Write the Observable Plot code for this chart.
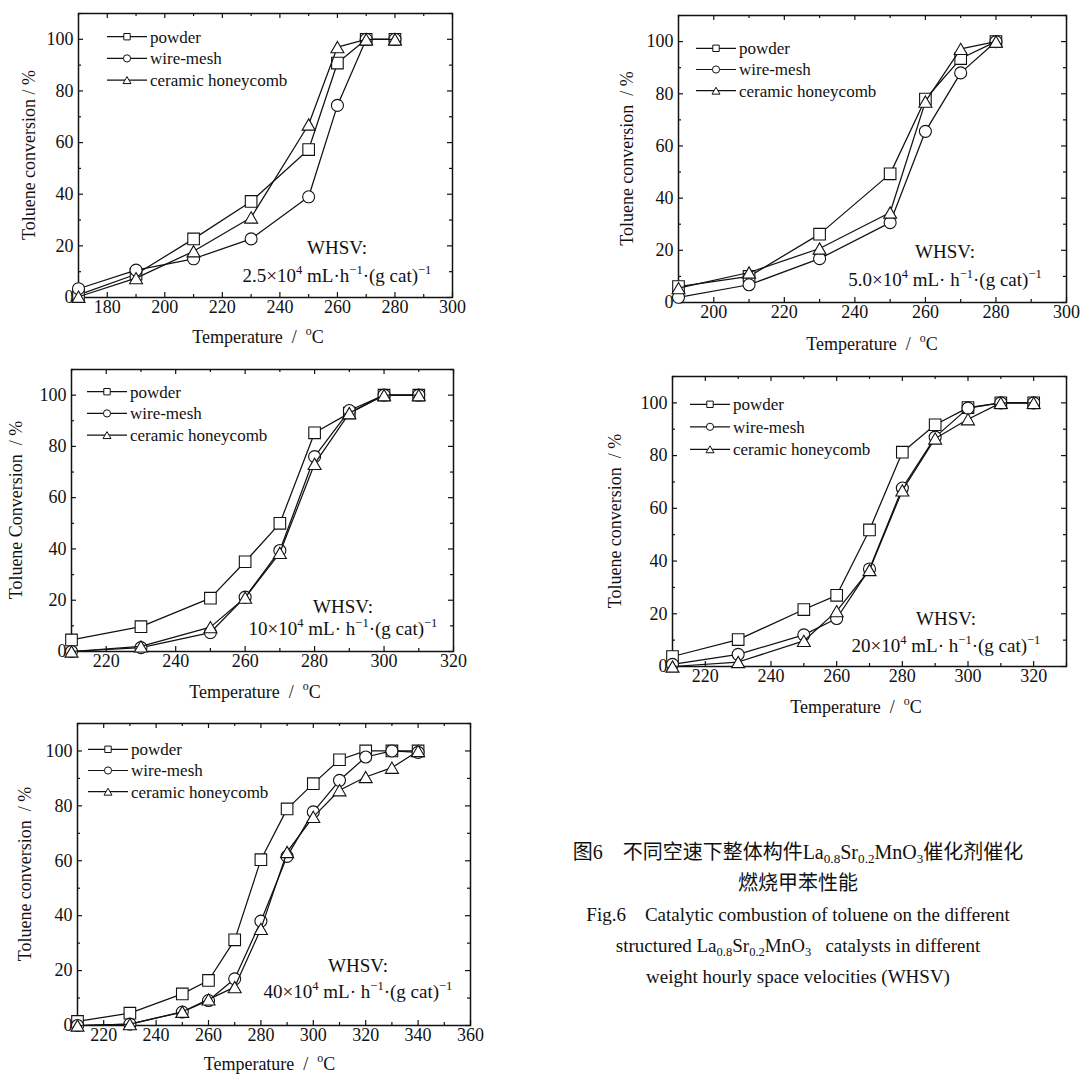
<!DOCTYPE html>
<html><head><meta charset="utf-8">
<script src="https://cdn.jsdelivr.net/npm/d3@7"></script>
<script src="https://cdn.jsdelivr.net/npm/@observablehq/plot@0.6"></script>
<style>
body{margin:0;background:#fff;}
#page{position:relative;width:1080px;height:1077px;overflow:hidden;background:#fff;font-family:"Liberation Serif","Times New Roman",serif;color:#111;}
.panel{position:absolute;}
.panel svg{max-width:none;display:block;}
#caption{position:absolute;left:548px;width:500px;top:837px;text-align:center;line-height:31px;color:#111;white-space:nowrap;}
.cn{font-size:20px;font-family:"Liberation Serif","Noto Sans CJK SC",serif;}
.en{font-size:19px;}
sub{font-size:0.66em;vertical-align:-0.28em;line-height:0;}
</style></head>
<body><div id="page"></div>
<script>
// ---------- data ----------
const seriesNames = ["powder", "wire-mesh", "ceramic honeycomb"];
const yTicks = [0, 20, 40, 60, 80, 100];

// Panel 1: WHSV 2.5x10^4
const temps1   = [170, 190, 210, 230, 250, 260, 270, 280];
const powder1  = [1, 9, 22.7, 37.2, 57.3, 90.8, 100, 100];
const wire1    = [3.4, 10.6, 15, 22.7, 39, 74.4, 100, 100];
const ceramic1 = [0.3, 7.5, 17.9, 31, 67, 97, 100, 100];
const xTicks1  = [180, 200, 220, 240, 260, 280, 300];

// Panel 2: WHSV 5.0x10^4
const temps2   = [190, 210, 230, 250, 260, 270, 280];
const powder2  = [6.1, 10, 26.2, 49.3, 78, 93.5, 100];
const wire2    = [2, 6.8, 16.8, 30.6, 65.6, 88, 100];
const ceramic2 = [5.5, 11.5, 20.7, 34.5, 77, 97.2, 100];
const xTicks2  = [200, 220, 240, 260, 280, 300];

// Panel 3: WHSV 10x10^4
const temps3   = [210, 230, 250, 260, 270, 280, 290, 300, 310];
const powder3  = [4.5, 9.7, 20.8, 35, 50, 85.3, 93, 100, 100];
const wire3    = [0, 1.5, 7.4, 21.2, 39.4, 76, 94, 100, 100];
const ceramic3 = [0, 2, 9.5, 21, 38.5, 73.2, 93, 100, 100];
const xTicks3  = [220, 240, 260, 280, 300, 320];

// Panel 4: WHSV 20x10^4
const temps4   = [210, 230, 250, 260, 270, 280, 290, 300, 310, 320];
const powder4  = [3.8, 10.2, 21.6, 27, 51.8, 81.3, 91.7, 98.2, 100, 100];
const wire4    = [0.8, 4.6, 12, 18.2, 37, 67.7, 87, 98, 100, 100];
const ceramic4 = [0, 1.7, 9.7, 21, 36.6, 66.8, 86.5, 93.8, 100, 100];
const xTicks4  = [220, 240, 260, 280, 300, 320];

// Panel 5: WHSV 40x10^4
const temps5   = [210, 230, 250, 260, 270, 280, 290, 300, 310, 320, 330, 340];
const powder5  = [1.5, 4.5, 11.5, 16.4, 31.2, 60.4, 78.9, 88.1, 96.8, 100, 100, 100];
const wire5    = [0, 0.5, 4.9, 9.1, 17, 38, 61.6, 77.8, 89.3, 97.8, 100, 99.5];
const ceramic5 = [0, 0.5, 5, 9.5, 14, 35.2, 63.2, 76, 85.7, 90.5, 93.9, 100];
const xTicks5  = [220, 240, 260, 280, 300, 320, 340, 360];

const yLabels = ["Toluene conversion / %", "Toluene conversion  / %", "Toluene Conversion  / %", "Toluene conversion  / %", "Toluene conversion  / %"];
const whsvValues = ["2.5", "5.0", "10", "20", "40"];
const whsvSpaced = [false, true, true, true, true];

// ---------- layout (page pixels) ----------
const panels = [
  {temps: temps1, series: [powder1, wire1, ceramic1], xDomain: [170, 300], xTicks: xTicks1,
   left: 0, top: 0, width: 470, height: 350, frame: [78, 452, 13, 297],
   legend: [107, 36.7, 21.7], ann: [337, 254, 282], xLab: [-7, 46], yLabDx: -49},
  {temps: temps2, series: [powder2, wire2, ceramic2], xDomain: [190, 300], xTicks: xTicks2,
   left: 600, top: 0, width: 480, height: 360, frame: [678, 1066, 15, 302],
   legend: [696, 48.3, 21.2], ann: [945, 258, 286], xLab: [0, 48], yLabDx: -51},
  {temps: temps3, series: [powder3, wire3, ceramic3], xDomain: [210, 320], xTicks: xTicks3,
   left: 0, top: 358, width: 470, height: 352, frame: [71, 453, 369, 651],
   legend: [87, 391.7, 21.7], ann: [343, 613, 635], xLab: [-7, 47], yLabDx: -55},
  {temps: temps4, series: [powder4, wire4, ceramic4], xDomain: [210, 330], xTicks: xTicks4,
   left: 600, top: 368, width: 480, height: 352, frame: [672, 1066, 376, 666],
   legend: [690, 404.3, 22.5], ann: [946, 625, 651.5], xLab: [-13, 47], yLabDx: -57},
  {temps: temps5, series: [powder5, wire5, ceramic5], xDomain: [210, 360], xTicks: xTicks5,
   left: 0, top: 705, width: 480, height: 372, frame: [77, 470, 723, 1025],
   legend: [88, 749.3, 21.2], ann: [358, 971.7, 998.3], xLab: [-4, 45], yLabDx: -52}
];

// ---------- symbols ----------
function sq(h) { return {draw(c) { c.moveTo(-h, -h); c.lineTo(h, -h); c.lineTo(h, h); c.lineTo(-h, h); c.closePath(); }}; }
function ci(r) { return {draw(c) { c.moveTo(r, 0); c.arc(0, 0, r, 0, 2 * Math.PI); }}; }
function tr(s) { return {draw(c) { const h = s * Math.sqrt(3) / 2; c.moveTo(0, -h / 2); c.lineTo(s / 2, h / 2); c.lineTo(-s / 2, h / 2); c.closePath(); }}; }
const dataSymbols = [sq(5.8), ci(6), tr(13)];
const legendSymbols = [sq(3.2), ci(3.6), tr(8)];

const INK = "#111";
const page = document.getElementById("page");

function addText(g, x, y, pieces, size, opts = {}) {
  const t = g.append("text").attr("x", x).attr("y", y)
    .attr("text-anchor", opts.anchor || "middle")
    .attr("font-size", size).attr("fill", INK)
    .style("white-space", "pre");
  if (opts.rotate) t.attr("transform", `rotate(${opts.rotate},${x},${y})`);
  if (opts.dy) t.attr("dy", opts.dy);
  const shift = size * 0.42;
  let raised = false;
  pieces.forEach(p => {
    const [str, sup] = Array.isArray(p) ? p : [p, false];
    const ts = t.append("tspan").text(str);
    if (sup && !raised) { ts.attr("dy", -shift); raised = true; }
    else if (!sup && raised) { ts.attr("dy", shift); raised = false; }
    if (sup) ts.attr("font-size", size * 0.66);
  });
  return t;
}

panels.forEach((p, pi) => {
  const mL = p.frame[0] - p.left, mR = p.left + p.width - p.frame[1];
  const mT = p.frame[2] - p.top, mB = p.top + p.height - p.frame[3];
  const fw = p.frame[1] - p.frame[0], fh = p.frame[3] - p.frame[2];
  const [x0, x1] = p.xDomain;
  const xMajor = d3.range(Math.ceil(x0 / 20) * 20, x1 + 0.1, 20);
  const xMinor = d3.range(Math.ceil(x0 / 10) * 10, x1 + 0.1, 10).filter(v => v % 20 !== 0);
  const yMajor = d3.range(0, 110.1, 20);
  const yMinor = d3.range(10, 110.1, 20);
  const TM = 5, Tm = 3;
  const tk = {stroke: INK, strokeWidth: 1.2};
  const marks = [
    Plot.frame({stroke: INK, strokeWidth: 1.5}),
    Plot.tickX(xMajor, {x: d => d, insetTop: fh - TM, ...tk}),
    Plot.tickX(xMajor, {x: d => d, insetBottom: fh - TM, ...tk}),
    Plot.tickX(xMinor, {x: d => d, insetTop: fh - Tm, ...tk}),
    Plot.tickX(xMinor, {x: d => d, insetBottom: fh - Tm, ...tk}),
    Plot.tickY(yMajor, {y: d => d, insetRight: fw - TM, ...tk}),
    Plot.tickY(yMajor, {y: d => d, insetLeft: fw - TM, ...tk}),
    Plot.tickY(yMinor, {y: d => d, insetRight: fw - Tm, ...tk}),
    Plot.tickY(yMinor, {y: d => d, insetLeft: fw - Tm, ...tk})
  ];
  p.series.forEach((vals, si) => {
    const data = p.temps.map((t, i) => ({t, v: vals[i], s: seriesNames[si]}));
    marks.push(Plot.line(data, {x: "t", y: "v", stroke: INK, strokeWidth: 1.25}));
    marks.push(Plot.dot(data, {x: "t", y: "v", symbol: dataSymbols[si], fill: "white", stroke: INK, strokeWidth: 1.1}));
  });
  const svg = Plot.plot({
    width: p.width, height: p.height,
    marginLeft: mL, marginRight: mR, marginTop: mT, marginBottom: mB,
    style: {fontFamily: "'Liberation Serif', 'Times New Roman', serif", fontSize: "18px", color: INK, background: "none", overflow: "visible"},
    x: {domain: p.xDomain, ticks: p.xTicks, tickSize: 0, tickPadding: 3, label: null},
    y: {domain: [0, 110], ticks: yTicks, tickSize: 0, tickPadding: 5, label: null},
    marks
  });
  const g = d3.select(svg).append("g").attr("class", "overlay");
  const fl = mL, fr = mL + fw, ft = mT, fb = mT + fh;
  // axis labels
  addText(g, (fl + fr) / 2 + p.xLab[0], fb + p.xLab[1], ["Temperature  /  ", ["o", true], "C"], 18);
  addText(g, fl + p.yLabDx, (ft + fb) / 2, [yLabels[pi]], 18, {rotate: -90, dy: "0.35em"});
  // legend
  const [lx, ly, lsp] = p.legend;
  seriesNames.forEach((name, si) => {
    const x = lx - p.left, y = ly - p.top + si * lsp;
    g.append("line").attr("x1", x).attr("x2", x + 40).attr("y1", y).attr("y2", y).attr("stroke", INK).attr("stroke-width", 1.2);
    const path = d3.path(); legendSymbols[si].draw(path);
    g.append("path").attr("d", path.toString()).attr("transform", `translate(${x + 20},${y})`).attr("fill", "white").attr("stroke", INK).attr("stroke-width", 1);
    addText(g, x + 43, y, [name], 17, {anchor: "start", dy: "0.35em"});
  });
  // WHSV annotation
  const [ax, ay1, ay2] = p.ann;
  addText(g, ax - p.left, ay1 - p.top, ["WHSV:"], 19);
  addText(g, ax - p.left, ay2 - p.top,
    [whsvValues[pi] + "×10", ["4", true], whsvSpaced[pi] ? " mL· h" : " mL·h", ["−1", true], "·(g cat)", ["−1", true]], 19);
  const div = document.createElement("div");
  div.className = "panel";
  div.style.left = p.left + "px"; div.style.top = p.top + "px";
  div.style.width = p.width + "px"; div.style.height = p.height + "px";
  div.appendChild(svg);
  page.appendChild(div);
});

// caption
const cap = document.createElement("div");
cap.id = "caption";
cap.innerHTML =
  '<div class="cn">图6&emsp;不同空速下整体构件La<sub>0.8</sub>Sr<sub>0.2</sub>MnO<sub>3</sub>催化剂催化</div>' +
  '<div class="cn">燃烧甲苯性能</div>' +
  '<div class="en">Fig.6&emsp;Catalytic combustion of toluene on the different</div>' +
  '<div class="en">structured La<sub>0.8</sub>Sr<sub>0.2</sub>MnO<sub>3</sub>&ensp; catalysts in different</div>' +
  '<div class="en">weight hourly space velocities (WHSV)</div>';
page.appendChild(cap);
</script>
</body></html>
